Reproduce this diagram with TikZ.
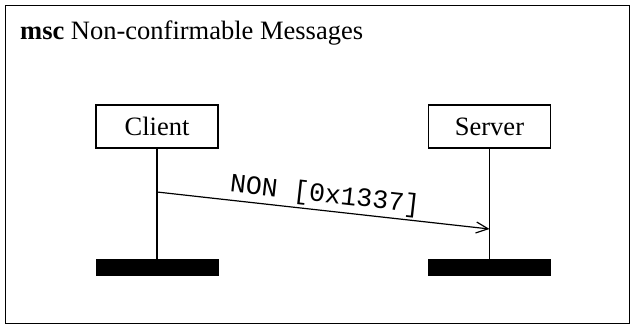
\documentclass[tikz,border=0pt]{standalone}
\usepackage{fontspec}
\setmainfont{Liberation Serif}
\newfontfamily\monofnt{Liberation Mono}
\usetikzlibrary{arrows.meta}
\begin{document}
\begin{tikzpicture}[x=1pt,y=-1pt,
  inst/.style={draw,line width=1.2pt,minimum width=122pt,minimum height=43pt,inner sep=0pt,font=\fontsize{26.5}{30}\selectfont},
  endbar/.style={fill=black,draw=black,minimum width=122pt,minimum height=16pt,inner sep=0pt},
  lifeline/.style={line width=1.2pt},
  msg/.style={line width=1.2pt,-{Straight Barb[length=12pt,width=11pt,line width=1.2pt]}}]
\useasboundingbox (0,0) rectangle (635,329);
\node[draw,line width=1.4pt,minimum width=624pt,minimum height=318pt,inner sep=0pt] (frame) at (317.5,164.5) {};
\node[anchor=base west,inner sep=0pt,font=\fontsize{26.5}{30}\selectfont] (title) at (20,40) {\textbf{msc} Non-confirmable Messages};
\node[inst] (client) at (157,126.5) {Client};
\node[inst] (server) at (489.5,126.5) {Server};
\node[endbar] (cbar) at (157,267.5) {};
\node[endbar] (sbar) at (489.5,267.5) {};
\draw[lifeline] (client.south) -- (cbar.north);
\draw[lifeline] (server.south) -- (sbar.north);
\coordinate (m1) at (157,192);
\coordinate (m2) at (489.5,229);
\draw[msg] (m1) -- node[midway,above,sloped,inner sep=2pt,font=\monofnt\fontsize{26.5}{30}\selectfont] (lbl) {NON [0x1337]} (m2);
\end{tikzpicture}
\end{document}
